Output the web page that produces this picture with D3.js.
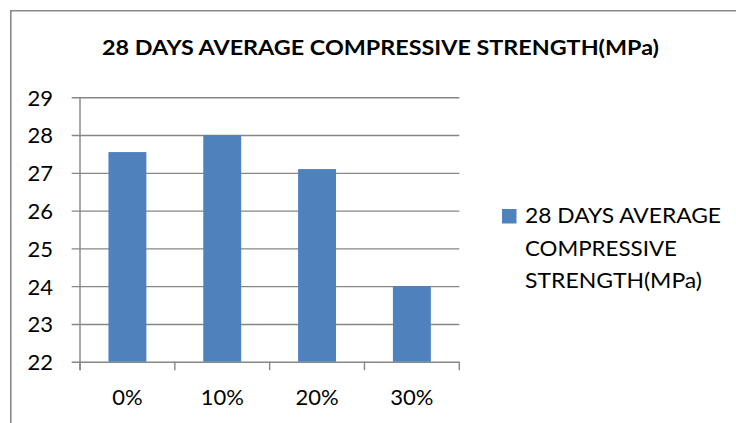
<!DOCTYPE html>
<html>
<head>
<meta charset="utf-8">
<script src="https://cdn.jsdelivr.net/npm/d3@7"></script>
<style>
  html, body { margin: 0; padding: 0; background: #fff; }
  svg { display: block; }
  text { font-family: Lato, "Open Sans", sans-serif; fill: #000; }
</style>
</head>
<body>
<svg id="chart" width="736" height="423"></svg>
<script>
// Data
const categories = ["0%", "10%", "20%", "30%"];
const strengthValues = [27.55, 28.0, 27.1, 24.0];
const yTicks = [22, 23, 24, 25, 26, 27, 28, 29];
const chartTitle = "28 DAYS AVERAGE COMPRESSIVE STRENGTH(MPa)";
const legendLines = ["28 DAYS AVERAGE", "COMPRESSIVE", "STRENGTH(MPa)"];

const svg = d3.select("#chart");
const gridColor = "#868686";
const barColor = "#4F81BD";

// Plot area
const plot = { left: 80, right: 459.3, top: 97.3, bottom: 361.7 };

const x = d3.scaleBand()
  .domain(categories)
  .range([plot.left, plot.right])
  .paddingInner(0.6)
  .paddingOuter(0.3);

const y = d3.scaleLinear()
  .domain([22, 29])
  .range([plot.bottom, plot.top]);

// Chart frame (open on the right and bottom)
svg.append("path")
  .attr("d", `M10.8,423 V10.8 H736`)
  .attr("fill", "none")
  .attr("stroke", "#8a8a8a")
  .attr("stroke-width", 1.6);

// Title
svg.append("text")
  .attr("x", 380.5)
  .attr("y", 55)
  .attr("text-anchor", "middle")
  .attr("font-weight", "bold")
  .attr("font-size", 21.5)
  .attr("textLength", 557)
  .attr("lengthAdjust", "spacingAndGlyphs")
  .text(chartTitle);

// Horizontal gridlines with short ticks left of the value axis
const yAxis = d3.axisLeft(y)
  .tickValues(yTicks)
  .tickSize(-(plot.right - plot.left))
  .tickPadding(0)
  .tickFormat(d3.format("d"));

const yG = svg.append("g")
  .attr("transform", `translate(${plot.left},0)`)
  .call(yAxis);
yG.select(".domain").remove();
yG.selectAll(".tick line")
  .attr("x1", -8.3)
  .attr("stroke", gridColor)
  .attr("stroke-width", 1.4);
yG.selectAll(".tick text")
  .attr("x", -27)
  .attr("dy", "0.36em")
  .attr("font-size", 22)
  .attr("font-family", "Lato, 'Open Sans', sans-serif")
  .attr("fill", "#000");

// Bars
svg.append("g")
  .selectAll("rect")
  .data(categories)
  .join("rect")
  .attr("x", d => x(d))
  .attr("width", x.bandwidth())
  .attr("y", (d, i) => y(strengthValues[i]))
  .attr("height", (d, i) => y(22) - y(strengthValues[i]))
  .attr("fill", barColor);

// Value axis line
svg.append("line")
  .attr("x1", plot.left).attr("x2", plot.left)
  .attr("y1", plot.top).attr("y2", plot.bottom + 8.5)
  .attr("stroke", gridColor)
  .attr("stroke-width", 1.4);

// Category boundary ticks
const boundaries = d3.range(categories.length + 1).map(i => plot.left + i * (plot.right - plot.left) / categories.length);
svg.append("g")
  .selectAll("line")
  .data(boundaries)
  .join("line")
  .attr("x1", d => d).attr("x2", d => d)
  .attr("y1", plot.bottom).attr("y2", plot.bottom + 8.5)
  .attr("stroke", gridColor)
  .attr("stroke-width", 1.4);

// Category labels
svg.append("g")
  .selectAll("text")
  .data(categories)
  .join("text")
  .attr("x", d => x(d) + x.bandwidth() / 2)
  .attr("y", 405)
  .attr("text-anchor", "middle")
  .attr("font-size", 22)
  .text(d => d);

// Legend
const legend = svg.append("g");
legend.append("rect")
  .attr("x", 502).attr("y", 209)
  .attr("width", 14.5).attr("height", 14.5)
  .attr("fill", barColor);
const legendWidths = [196, 152, 177];
const legendBaselines = [223.3, 255.7, 287.5];
legend.selectAll("text")
  .data(legendLines)
  .join("text")
  .attr("x", 525)
  .attr("y", (d, i) => legendBaselines[i])
  .attr("font-size", 22)
  .attr("textLength", (d, i) => legendWidths[i])
  .attr("lengthAdjust", "spacingAndGlyphs")
  .text(d => d);
</script>
</body>
</html>
